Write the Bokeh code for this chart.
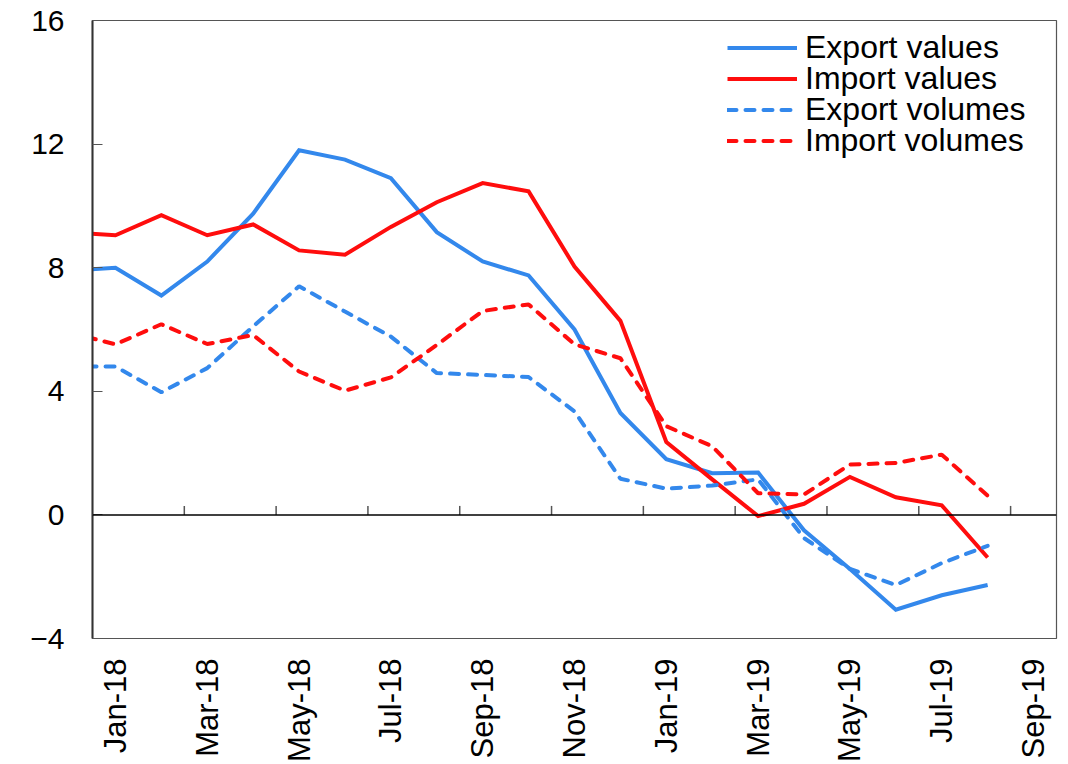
import numpy as np
from bokeh.plotting import figure
from bokeh.models import Range1d, FixedTicker, Span, Legend, LegendItem
from bokeh.embed import file_html
from bokeh.resources import INLINE

# monthly series, Dec-17 .. Aug-19 (Dec-17 sits just left of the plot edge)
months = ["Dec-17", "Jan-18", "Feb-18", "Mar-18", "Apr-18", "May-18", "Jun-18", "Jul-18",
          "Aug-18", "Sep-18", "Oct-18", "Nov-18", "Dec-18", "Jan-19", "Feb-19", "Mar-19",
          "Apr-19", "May-19", "Jun-19", "Jul-19", "Aug-19"]
export_values = [7.9, 8.0, 7.1, 8.2, 9.75, 11.8, 11.5, 10.9, 9.15, 8.2, 7.75, 6.0,
                 3.3, 1.8, 1.35, 1.37, -0.5, -1.75, -3.07, -2.6, -2.27]
import_values = [9.15, 9.05, 9.7, 9.05, 9.4, 8.56, 8.42, 9.32, 10.12, 10.74, 10.47, 8.04,
                 6.28, 2.36, 1.15, -0.04, 0.36, 1.23, 0.57, 0.31, -1.38]
export_volumes = [4.8, 4.8, 3.97, 4.75, 6.1, 7.4, 6.58, 5.77, 4.59, 4.53, 4.46, 3.35,
                  1.17, 0.85, 0.95, 1.15, -0.75, -1.75, -2.27, -1.56, -1.0]
import_volumes = [5.9, 5.52, 6.17, 5.53, 5.82, 4.64, 4.02, 4.45, 5.5, 6.6, 6.81, 5.52,
                  5.07, 2.87, 2.22, 0.7, 0.66, 1.63, 1.68, 1.95, 0.62]

series_names = ["Export values", "Import values", "Export volumes", "Import volumes"]
tick_labels = ["Jan-18", "Mar-18", "May-18", "Jul-18", "Sep-18", "Nov-18",
               "Jan-19", "Mar-19", "May-19", "Jul-19", "Sep-19"]
y_ticks = [-4, 0, 4, 8, 12, 16]

BLUE = "#3388ec"
RED = "#ff0d0d"
FONT = "Liberation Sans"

x = np.arange(len(months)) - 1  # Jan-18 -> 0

p = figure(width=1060, height=764, output_backend="svg", toolbar_location=None,
           x_range=Range1d(-0.5, 20.5), y_range=Range1d(-4, 16),
           min_border_left=92, min_border_right=4, min_border_top=20, min_border_bottom=124)
p.grid.visible = False
p.outline_line_color = "#555555"
p.outline_line_width = 1.2
p.background_fill_color = "white"
p.border_fill_color = "white"

# y axis
p.yaxis.ticker = FixedTicker(ticks=y_ticks)
p.yaxis.major_label_overrides = {t: (str(t) if t >= 0 else "\u2212" + str(-t)) for t in y_ticks}
p.yaxis.major_tick_in = 10
p.yaxis.major_tick_out = 0
p.yaxis.minor_tick_line_color = None
p.yaxis.axis_line_color = "#333333"
p.yaxis.axis_line_width = 2
p.yaxis.major_tick_line_color = "#555555"
p.yaxis.major_label_standoff = 28
p.yaxis.major_label_text_font = FONT
p.yaxis.major_label_text_font_size = "30px"
p.yaxis.major_label_text_color = "black"

# x axis: labels only, every second month
label_pos = list(range(0, 2 * len(tick_labels), 2))
p.xaxis.ticker = FixedTicker(ticks=label_pos)
p.xaxis.major_label_overrides = dict(zip(label_pos, tick_labels))
p.xaxis.major_label_orientation = np.pi / 2
p.xaxis.major_tick_in = 0
p.xaxis.major_tick_out = 0
p.xaxis.minor_tick_line_color = None
p.xaxis.axis_line_color = None
p.xaxis.major_label_standoff = 20
p.xaxis.major_label_text_font = FONT
p.xaxis.major_label_text_font_size = "31px"
p.xaxis.major_label_text_color = "black"

# zero line with category boundary ticks
p.add_layout(Span(location=0, dimension="width", line_color="black", line_width=1.5))
boundary_ticks = [b + 1.5 for b in label_pos[:-1]]
p.segment(x0=boundary_ticks, y0=0, x1=boundary_ticks, y1=9 / 31,
          line_color="#555555", line_width=1.5)

r1 = p.line(x, export_values, line_color=BLUE, line_width=4, line_join="miter")
r2 = p.line(x, import_values, line_color=RED, line_width=4, line_join="miter")
r3 = p.line(x, export_volumes, line_color=BLUE, line_width=4, line_dash="9 9", line_cap="round")
r4 = p.line(x, import_volumes, line_color=RED, line_width=4, line_dash="9 9", line_cap="round")

# one legend per row so the rows sit tighter than the font's line box
row_bottoms = [572, 541, 510, 479]
for name, r, yb in zip(series_names, [r1, r2, r3, r4], row_bottoms):
    lg = Legend(items=[LegendItem(label=name, renderers=[r])],
                location=(635, yb), padding=0, margin=0, spacing=0,
                glyph_width=70, glyph_height=31, label_height=31, label_standoff=8,
                label_text_font=FONT, label_text_font_size="32px",
                label_text_color="black",
                border_line_color=None, background_fill_alpha=0)
    p.add_layout(lg)

open("out.html", "w").write(file_html(p, INLINE))
